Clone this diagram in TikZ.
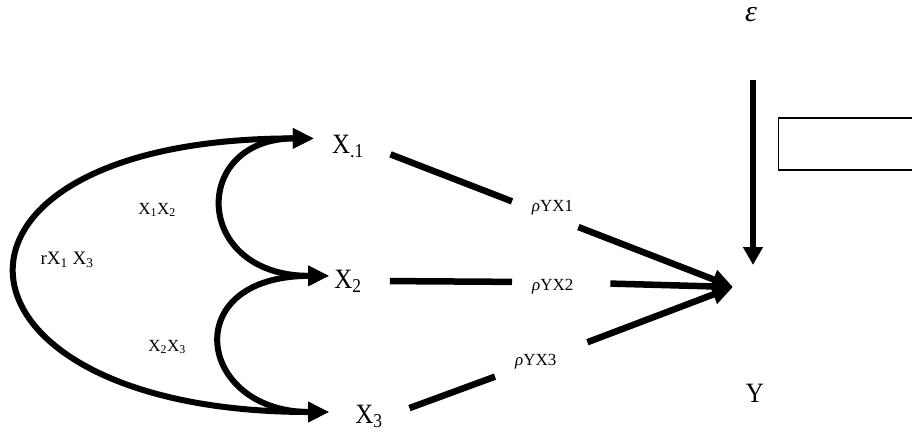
\documentclass[tikz,border=0pt]{standalone}
\usepackage{graphicx}
\usepackage{fontspec}
\setmainfont{Liberation Serif}
\usetikzlibrary{arrows.meta}

\newcommand{\vt}[1]{\scalebox{1}[1.12]{#1}}
\tikzset{
  >={Triangle[length=21pt,width=19pt]},
  var/.style={font=\fontsize{25}{25}\selectfont, inner xsep=5pt, inner ysep=3pt},
  coef/.style={font=\fontsize{17}{17}\selectfont, inner sep=0pt, anchor=north west},
  corr/.style={font=\fontsize{17}{17}\selectfont},
  link/.style={line width=6.5pt, shorten <=23pt},
  loop/.style={line width=6pt, <->},
}

\begin{document}
\begin{tikzpicture}[x=1pt, y=1pt]
 	\clip (0,0) rectangle (912,432);
 	\node[var, anchor=base] (x1) at (348,279) {\vt{X\textsubscript{.1}}};
 	\node[var, anchor=base] (x2) at (348,144) {\vt{X\textsubscript{2}}};
 	\node[var, anchor=base] (x3) at (369,9) {\vt{X\textsubscript{3}}};
 	\node[var, anchor=base] (yy) at (755,30) {\vt{Y}};
 	\node[anchor=north, inner sep=0pt, font=\fontsize{30}{30}\selectfont] (eps) at (751,425) {\itshape ε};
 	\coordinate (yt) at (733,145);
 	\coordinate (etop) at (753,352);
 	\coordinate (ebot) at (753,167);
 	\node[draw, line width=1.2pt, minimum width=170pt, minimum height=52pt, anchor=west] (blank) at (778,288) {};

 	\node[coef, text width=56pt, align=right, inner xsep=5pt, text height=11pt, text depth=17pt] (r1) at (512,232) {{\itshape ρ}YX1};
 	\node[coef, text width=58pt, align=left, inner xsep=20pt, text height=20pt, text depth=4pt] (r2) at (512,162) {{\itshape ρ}YX2};
 	\node[coef, text width=52pt, align=left, inner xsep=20pt, text height=23pt, text depth=12pt] (r3) at (495,90) {{\itshape ρ}YX3};

 	\node[corr] (k12) at (157,222) {X\textsubscript{1}X\textsubscript{2}};
 	\node[corr] (k23) at (167,85) {X\textsubscript{2}X\textsubscript{3}};
 	\node[font=\fontsize{19}{19}\selectfont] (k13) at (67,172) {rX\textsubscript{1} X\textsubscript{3}};

 	\draw[link] (x1.east) -- (r1);
 	\draw[link, shorten <=0pt, ->] (r1) -- (yt);
 	\draw[link] (x2.east) -- (r2);
 	\draw[link, shorten <=0pt, ->] (r2) -- (yt);
 	\draw[link] (x3.east) -- (r3);
 	\draw[link, shorten <=0pt, ->] (r3) -- (yt);

 	\draw[loop, shorten <=21pt, shorten >=13pt] (x3.168) to[out=180, in=180, distance=422pt] (x1.160);
 	\draw[loop, shorten <=13pt] (x1.160) to[out=180, in=180, distance=137pt] (x2.165);
 	\draw[loop, shorten >=21pt] (x2.165) to[out=180, in=180, distance=153pt] (x3.168);

 	\draw[line width=6.5pt, -{Triangle[length=18pt,width=19pt]}] (etop) -- (ebot);
\end{tikzpicture}
\end{document}
